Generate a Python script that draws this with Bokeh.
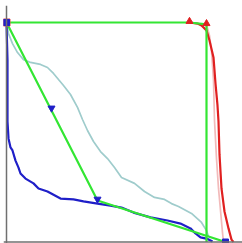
from bokeh.plotting import figure
from bokeh.models import Span, Range1d
from bokeh.embed import file_html
from bokeh.resources import INLINE

# Frontier (green) polylines
upper_x = [0.0, 0.915, 1.0, 1.0]
upper_y = [1.0, 1.0, 0.991, 0.0]
lower_x = [0.0, 0.455, 1.095]
lower_y = [1.0, 0.189, 0.0]

# Red curve
red_x = [0.915, 0.955, 0.975, 1.0, 1.015, 1.035, 1.045, 1.055, 1.06, 1.065, 1.075, 1.09, 1.11, 1.125, 1.135]
red_y = [1.0, 0.995, 0.986, 0.964, 0.918, 0.841, 0.722, 0.622, 0.549, 0.399, 0.244, 0.139, 0.062, 0.011, 0.0]

# Pink curve
pink_x = [1.0, 1.015, 1.025, 1.035, 1.04, 1.05, 1.06, 1.07, 1.075, 1.08, 1.085]
pink_y = [0.991, 0.941, 0.872, 0.736, 0.554, 0.380, 0.244, 0.144, 0.093, 0.043, 0.0]

# Teal curve
teal_x = [0, 0.01, 0.03, 0.055, 0.085, 0.12, 0.17, 0.205, 0.235, 0.26, 0.285, 0.32, 0.355, 0.38, 0.405,
          0.435, 0.47, 0.505, 0.54, 0.575, 0.64, 0.69, 0.74, 0.79, 0.825, 0.86, 0.925, 0.975, 1.0, 1.01]
teal_y = [1.0, 0.949, 0.904, 0.863, 0.831, 0.818, 0.809, 0.795, 0.768, 0.740, 0.713, 0.672, 0.613, 0.558, 0.508,
          0.458, 0.412, 0.380, 0.339, 0.294, 0.267, 0.230, 0.203, 0.194, 0.175, 0.162, 0.130, 0.089, 0.052, 0.025]

# Blue curve
blue_x = [0, 0.005, 0.005, 0.005, 0.01, 0.02, 0.03, 0.045, 0.06, 0.07, 0.095, 0.135, 0.16, 0.205, 0.27, 0.335,
          0.385, 0.455, 0.52, 0.575, 0.635, 0.72, 0.805, 0.87, 0.92, 0.945, 0.97, 1.005, 1.03]
blue_y = [1.0, 0.827, 0.645, 0.549, 0.472, 0.431, 0.417, 0.371, 0.339, 0.312, 0.289, 0.267, 0.244, 0.230, 0.198,
          0.194, 0.185, 0.175, 0.166, 0.157, 0.134, 0.112, 0.098, 0.084, 0.062, 0.039, 0.021, 0.014, 0.002]

# Markers
red_mx = [0.915, 1.0]
red_my = [1.005, 0.995]
tri_x = [0.225, 0.455]
tri_y = [0.61, 0.195]

p = figure(width=242, height=243, output_backend="svg", toolbar_location=None,
           x_range=Range1d(-0.015, 1.18), y_range=Range1d(-0.0068, 1.0774),
           min_border=0, min_border_left=3, min_border_right=0, min_border_top=5, min_border_bottom=0)
p.axis.visible = False
p.grid.visible = False
p.outline_line_color = None
p.background_fill_color = "white"
p.border_fill_color = "white"

p.add_layout(Span(location=0, dimension="height", line_color="#707070", line_width=1.5))
p.add_layout(Span(location=0, dimension="width", line_color="#707070", line_width=1.5))

p.line(teal_x, teal_y, line_color="#9fcccc", line_width=1.7)
p.line(pink_x, pink_y, line_color="#f2baba", line_width=1.7)
p.line(red_x, red_y, line_color="#e02020", line_width=2.2)
p.line(blue_x, blue_y, line_color="#1f1fc8", line_width=2.2)
p.line(upper_x, upper_y, line_color="#33e633", line_width=2.2)
p.line(lower_x, lower_y, line_color="#33e633", line_width=2.2)

p.scatter([0.0], [1.0], marker="square", size=7, color="#e05050")
p.scatter(red_mx, red_my, marker="triangle", size=7, color="#e02020")
p.scatter([0.0], [1.0], marker="square", size=6, color="#2020c8")
p.scatter(tri_x, tri_y, marker="inverted_triangle", size=7, color="#2020c8")
p.scatter([1.095], [0.0], marker="square", size=6, color="#2020c8")

open("out.html", "w").write(file_html(p, INLINE))
